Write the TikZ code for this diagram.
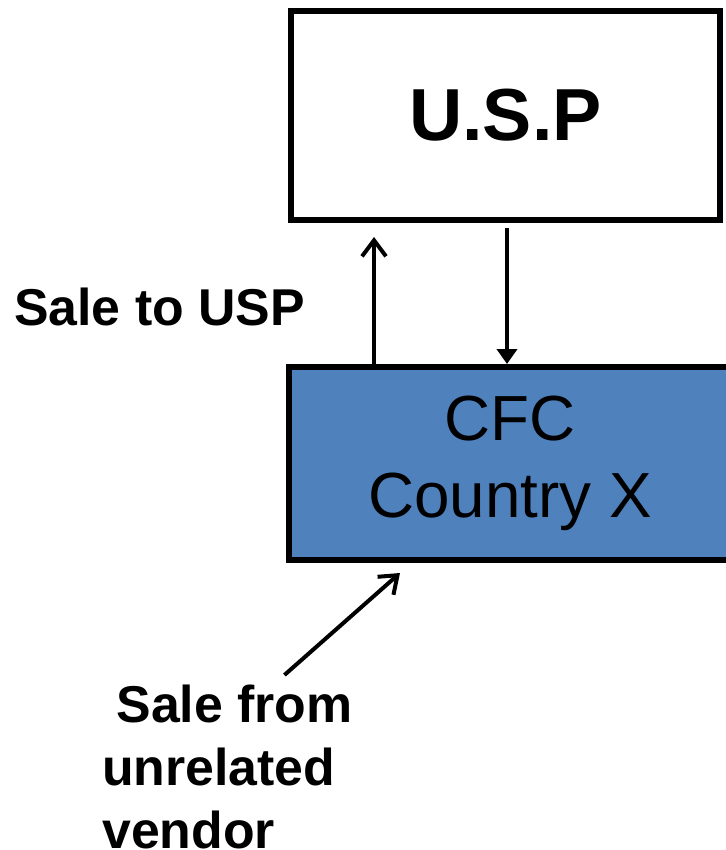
\documentclass[tikz,border=0pt]{standalone}
\usepackage{fontspec}
\setmainfont{Liberation Sans}
\usetikzlibrary{arrows.meta}

\definecolor{cfc blue}{HTML}{4F81BD}

\tikzset{
  box/.style={draw, line width=6bp, inner sep=0pt, align=center},
  flow line/.style={line width=4bp},
  barb tip/.style={flow line, -{Straight Barb[length=16bp,width=24bp]}},
  solid tip/.style={flow line, -{Triangle[length=15bp,width=20bp]}},
  big label/.style={font=\bfseries\fontsize{74}{89}\selectfont},
  box label/.style={font=\fontsize{64}{77}\selectfont},
  side label/.style={font=\bfseries\fontsize{52}{63}\selectfont, inner sep=0pt, align=left}
}

\begin{document}
\begin{tikzpicture}[x=1bp, y=-1bp]
\useasboundingbox (0,0) rectangle (726,850);
\clip (0,0) rectangle (726,850);
\node [box, big label, minimum width=429bp, minimum height=209bp] (usp) at (505.5,115.5) {U.S.P};
\node [box, box label, fill=cfc blue, minimum width=442bp, minimum height=193bp] (cfc) at (510,463.5) {CFC\\Country X};
\node [side label, anchor=base west] (sale to usp) at (14,325) {Sale to USP};
\node [side label, anchor=north west] (sale from) at (102,685) {\ Sale from\\unrelated\\vendor};
\coordinate (up x) at (374,0);
\coordinate (down x) at (507,0);
\coordinate (vendor tip) at (400,573); % arrow stops short of the box
\draw [barb tip, shorten >=14bp] (cfc.north -| up x) -- (usp.south -| up x);
\draw [solid tip, shorten <=5bp] (usp.south -| down x) -- (cfc.north -| down x);
\draw [barb tip] ([xshift=57bp, yshift=10bp]sale from.north) -- (vendor tip);
\end{tikzpicture}
\end{document}
